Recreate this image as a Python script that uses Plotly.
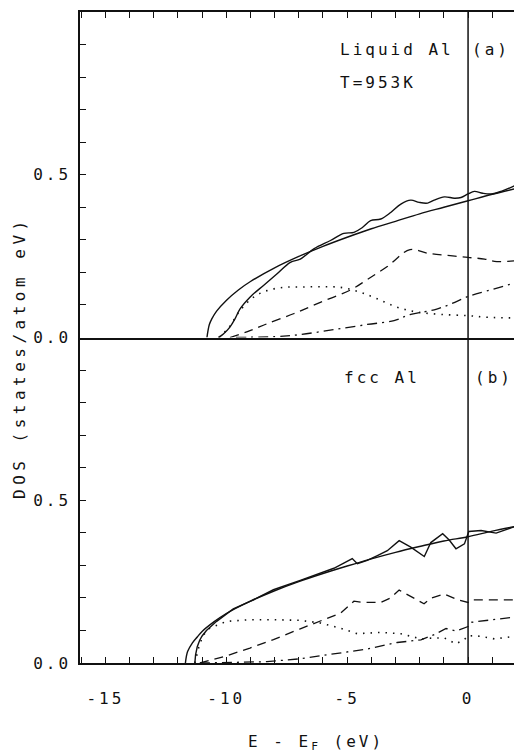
import plotly.graph_objects as go

# ---------------- data ----------------
# (a) liquid Al, T=953K
e_fe_a = [-10.8, -10.7, -10.6, -10.4, -10.0, -9.5, -9.0, -8.0, -7.0, -6.0, -5.0, -4.0, -3.0, -2.0, -1.0, 0.0, 1.0, 2.0]
dos_fe_a = [0.0, 0.040, 0.057, 0.081, 0.114, 0.146, 0.172, 0.214, 0.249, 0.280, 0.308, 0.334, 0.357, 0.380, 0.400, 0.420, 0.440, 0.458]

e_tot_a = [-10.33, -10.12, -9.85, -9.64, -9.43, -9.02, -8.46, -7.91, -7.35, -6.94, -6.38, -5.69, -5.14, -4.72, -4.37,
           -4.03, -3.61, -3.2, -2.78, -2.37, -2.02, -1.67, -1.4, -0.98, -0.57, -0.29, 0.0, 0.26, 0.61, 0.96, 1.37, 1.92]
dos_tot_a = [0.0, 0.011, 0.032, 0.057, 0.088, 0.124, 0.160, 0.195, 0.231, 0.241, 0.272, 0.298, 0.320, 0.323, 0.338,
             0.359, 0.364, 0.384, 0.410, 0.422, 0.415, 0.413, 0.422, 0.432, 0.428, 0.430, 0.441, 0.449, 0.443, 0.441, 0.449, 0.466]

e_p_a = [-9.85, -9.02, -8.32, -7.22, -6.11, -4.86, -4.17, -3.34, -2.4, -1.67, -0.84, 0.0, 0.68, 1.09, 1.65, 1.95]
dos_p_a = [0.0, 0.021, 0.042, 0.073, 0.108, 0.146, 0.178, 0.218, 0.270, 0.259, 0.252, 0.246, 0.241, 0.234, 0.234, 0.236]

e_s_a = [-10.3, -9.9, -9.43, -8.87, -8.32, -7.63, -6.94, -6.11, -5.28, -4.45, -3.76, -2.93, -2.1, -1.13, 0.0, 0.82, 1.92]
dos_s_a = [0.0, 0.030, 0.083, 0.124, 0.144, 0.154, 0.155, 0.156, 0.154, 0.139, 0.119, 0.093, 0.078, 0.071, 0.067, 0.062, 0.060]

e_d_a = [-9.6, -7.63, -6.94, -5.56, -4.17, -3.06, -2.37, -1.4, -0.71, 0.0, 0.82, 1.92]
dos_d_a = [0.0, 0.004, 0.009, 0.024, 0.040, 0.052, 0.071, 0.085, 0.103, 0.126, 0.144, 0.167]

# (b) fcc Al
e_fe_b = [-11.69, -11.6, -11.4, -11.2, -11.0, -10.5, -10.0, -9.0, -8.0, -7.0, -6.0, -5.0, -4.0, -3.0, -2.0, -1.0, 0.0, 1.0, 2.0]
dos_fe_b = [0.0, 0.035, 0.062, 0.080, 0.097, 0.127, 0.152, 0.190, 0.222, 0.250, 0.275, 0.298, 0.320, 0.340, 0.358, 0.375, 0.388, 0.405, 0.420]

e_tot_b = [-11.3, -11.27, -11.2, -11.1, -11.0, -10.82, -10.4, -9.71, -8.88, -8.05, -6.94, -6.11, -5.55, -5.14, -4.79,
           -4.58, -4.17, -3.75, -3.34, -2.85, -2.37, -1.81, -1.54, -1.05, -0.78, -0.5, -0.15, 0.03, 0.54, 1.16, 1.93]
dos_tot_b = [0.0, 0.025, 0.050, 0.070, 0.083, 0.100, 0.128, 0.166, 0.194, 0.225, 0.254, 0.276, 0.291, 0.307, 0.321,
             0.305, 0.315, 0.330, 0.345, 0.376, 0.356, 0.327, 0.370, 0.397, 0.378, 0.351, 0.366, 0.404, 0.407, 0.399, 0.419]

e_p_b = [-11.09, -9.99, -9.02, -8.05, -6.94, -6.11, -5.28, -4.72, -4.31, -3.61, -3.2, -2.85, -2.37, -1.82, -1.54,
         -0.98, -0.43, 0.0, 0.12, 0.82, 1.92]
dos_p_b = [0.0, 0.022, 0.046, 0.072, 0.105, 0.128, 0.153, 0.190, 0.186, 0.186, 0.200, 0.224, 0.205, 0.182, 0.199,
           0.212, 0.194, 0.186, 0.194, 0.194, 0.194]

e_s_b = [-11.3, -11.1, -10.9, -10.68, -9.99, -9.02, -8.05, -6.94, -6.11, -5.28, -4.58, -3.61, -2.78, -2.23, -1.95,
         -1.4, -0.98, -0.5, -0.15, 0.0, 0.54, 1.09, 1.93]
dos_s_b = [0.0, 0.060, 0.090, 0.107, 0.128, 0.133, 0.133, 0.131, 0.123, 0.107, 0.090, 0.094, 0.090, 0.080, 0.074,
           0.077, 0.077, 0.059, 0.072, 0.084, 0.082, 0.074, 0.082]

e_d_b = [-11.09, -8.32, -6.94, -5.83, -4.17, -2.93, -1.95, -1.4, -0.91, -0.5, 0.0, 0.12, 1.09, 1.93]
dos_d_b = [0.0, 0.004, 0.013, 0.025, 0.043, 0.063, 0.071, 0.087, 0.106, 0.098, 0.112, 0.125, 0.133, 0.141]

x_tick_vals = [-15, -10, -5, 0]
x_tick_text = ["-15", "-10", "-5", "0"]
y_tick_vals = [0.0, 0.5]
y_tick_text = ["0.0", "0.5"]

# ---------------- style ----------------
FONT = "DejaVu Sans Mono"
BLACK = "#111111"


def spaced(t, px=3):
    return f'<span style="letter-spacing:{px}px">{t}</span>'


fig = go.Figure()

styles = {
    "fe": dict(color=BLACK, width=1.4),
    "tot": dict(color=BLACK, width=1.4),
    "p": dict(color=BLACK, width=1.3, dash="9px,6px"),
    "s": dict(color=BLACK, width=1.6, dash="1.5px,6px"),
    "d": dict(color=BLACK, width=1.3, dash="10px,5px,2px,5px"),
}

panel_a = [(e_fe_a, dos_fe_a, "fe", "spline"), (e_tot_a, dos_tot_a, "tot", "spline"),
           (e_p_a, dos_p_a, "p", "spline"), (e_s_a, dos_s_a, "s", "spline"), (e_d_a, dos_d_a, "d", "spline")]
panel_b = [(e_fe_b, dos_fe_b, "fe", "spline"), (e_tot_b, dos_tot_b, "tot", "linear"),
           (e_p_b, dos_p_b, "p", "linear"), (e_s_b, dos_s_b, "s", "linear"), (e_d_b, dos_d_b, "d", "linear")]

for xs, ys, k, shp in panel_a:
    fig.add_trace(go.Scatter(x=xs, y=ys, mode="lines", line=dict(shape=shp, **styles[k]),
                             xaxis="x2", yaxis="y2", showlegend=False, hoverinfo="skip"))
for xs, ys, k, shp in panel_b:
    fig.add_trace(go.Scatter(x=xs, y=ys, mode="lines", line=dict(shape=shp, **styles[k]),
                             xaxis="x", yaxis="y", showlegend=False, hoverinfo="skip"))

XR = [-16.05, 1.9]
tick_font = dict(family=FONT, size=16, color=BLACK)
minor_x = dict(ticks="inside", ticklen=6, tickwidth=1.3, tickcolor=BLACK, dtick=1, tick0=0, showgrid=False)
minor_y = dict(ticks="inside", ticklen=6, tickwidth=1.3, tickcolor=BLACK, dtick=0.1, tick0=0, showgrid=False)

common_x = dict(range=XR, showgrid=False, zeroline=False, showline=True, linecolor=BLACK, linewidth=1.5,
                ticks="inside", ticklen=6, tickwidth=1.3, tickcolor=BLACK,
                tickvals=x_tick_vals, ticktext=[spaced(t) for t in x_tick_text],
                tickfont=tick_font, minor=minor_x)
common_y = dict(range=[0, 1.0], showgrid=False, zeroline=False, showline=True, linecolor=BLACK, linewidth=1.5,
                ticks="inside", ticklen=6, tickwidth=1.3, tickcolor=BLACK,
                tickvals=y_tick_vals, ticktext=[spaced(t) for t in y_tick_text],
                tickfont=tick_font, minor=minor_y)

fig.update_layout(
    width=514, height=752, autosize=False,
    margin=dict(l=80, r=0, t=12, b=89),
    paper_bgcolor="white", plot_bgcolor="white",
    xaxis=dict(domain=[0, 1], anchor="y", ticklabelstandoff=20, **common_x),
    xaxis2=dict(domain=[0, 1], anchor="y2", side="top", mirror=True, showticklabels=False, **common_x),
    yaxis=dict(domain=[0, 0.5], anchor="x", ticklabelstandoff=4, **common_y),
    yaxis2=dict(domain=[0.5, 1], anchor="x2", ticklabelstandoff=4, **common_y),
    font=dict(family=FONT, color=BLACK),
)

# Fermi level line
fig.add_shape(type="line", xref="x", yref="paper", x0=0, x1=0, y0=0, y1=1,
              line=dict(color=BLACK, width=1.5))

ann_font = dict(family=FONT, size=16, color=BLACK)
annos = [
    dict(x=-5.4, y=0.885, xref="x2", yref="y2", text=spaced("Liquid Al"), xanchor="left"),
    dict(x=0.08, y=0.885, xref="x2", yref="y2", text=spaced("(a)"), xanchor="left"),
    dict(x=-5.4, y=0.782, xref="x2", yref="y2", text=spaced("T=953K"), xanchor="left"),
    dict(x=-5.2, y=0.877, xref="x", yref="y", text=spaced("fcc Al"), xanchor="left"),
    dict(x=0.2, y=0.877, xref="x", yref="y", text=spaced("(b)"), xanchor="left"),
]
for a in annos:
    fig.add_annotation(showarrow=False, yanchor="middle", font=ann_font, **a)

# axis titles (pixel positions converted to paper coordinates)
W, H, L, T, B = 514, 752, 80, 12, 89
pw, ph = W - L, H - T - B


def px2paper(px, py):
    return (px - L) / pw, (H - B - py) / ph


tx, ty = px2paper(316, 742)
fig.add_annotation(x=tx, y=ty, xref="paper", yref="paper", showarrow=False,
                   xanchor="center", yanchor="middle",
                   text=spaced("E - E<sub>F</sub> (eV)"), font=ann_font)
tx, ty = px2paper(19, 358)
fig.add_annotation(x=tx, y=ty, xref="paper", yref="paper", showarrow=False,
                   xanchor="center", yanchor="middle",
                   text=spaced("DOS (states/atom eV)", 4.5), textangle=-90, font=ann_font)

fig.write_html("out.html")
